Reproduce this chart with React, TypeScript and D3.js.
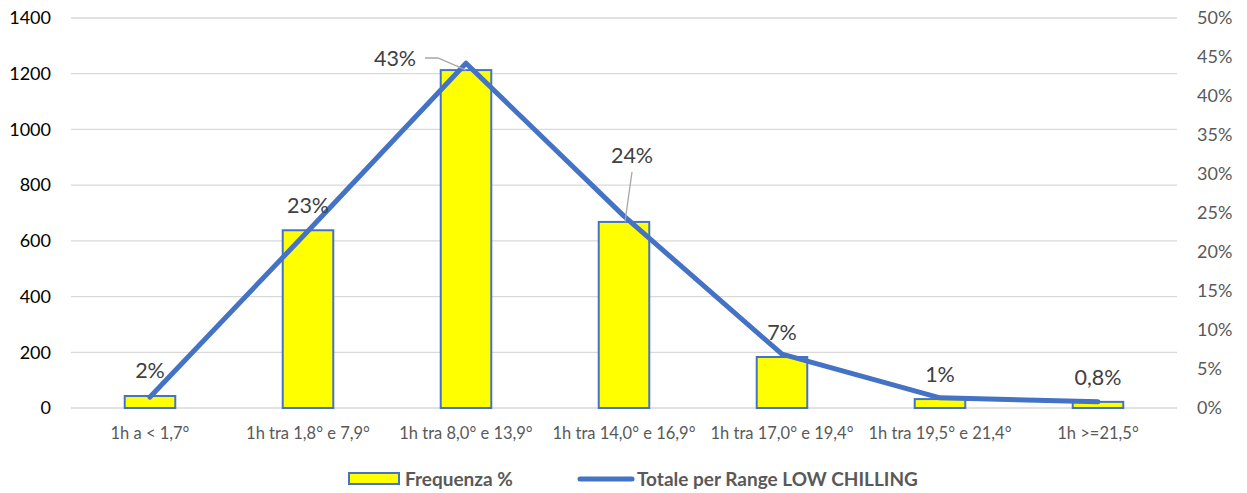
import * as React from "react";
import * as d3 from "d3";

// chart data
const categories = [
  "1h a < 1,7°",
  "1h tra 1,8° e 7,9°",
  "1h tra 8,0° e 13,9°",
  "1h tra 14,0° e 16,9°",
  "1h tra 17,0° e 19,4°",
  "1h tra 19,5° e 21,4°",
  "1h >=21,5°",
];
const counts = [43, 638, 1213, 668, 183, 32, 22];
const percents = [1.4, 22.7, 44.2, 24.6, 6.9, 1.3, 0.8];
const pctLabels = ["2%", "23%", "43%", "24%", "7%", "1%", "0,8%"];
const leftTicks = [0, 200, 400, 600, 800, 1000, 1200, 1400];
const rightTicks = [0, 5, 10, 15, 20, 25, 30, 35, 40, 45, 50];

const W = 1247;
const H = 493;
const FONT = "Lato, 'Open Sans', sans-serif";
const BLUE = "#4472c4";

export default function App() {
  const ref = React.useRef<SVGSVGElement>(null);

  React.useEffect(() => {
    const svg = d3.select(ref.current);
    svg.selectAll("*").remove();

    const x = d3.scaleBand().domain(categories).range([71, 1177]);
    const yL = d3.scaleLinear().domain([0, 1400]).range([408, 18]);
    const yR = d3.scaleLinear().domain([0, 50]).range([408, 18]);
    const cx = (i: number) => x(categories[i])! + x.bandwidth() / 2;
    const barW = x.bandwidth() * 0.32;

    // gridlines
    svg.append("g")
      .selectAll("line")
      .data(leftTicks)
      .join("line")
      .attr("x1", 71).attr("x2", 1177)
      .attr("y1", d => yL(d)).attr("y2", d => yL(d))
      .attr("stroke", "#d9d9d9").attr("stroke-width", 1.3);

    // left axis labels
    svg.append("g")
      .selectAll("text")
      .data(leftTicks)
      .join("text")
      .attr("x", 51).attr("y", d => yL(d))
      .attr("dy", "0.35em")
      .attr("text-anchor", "end")
      .attr("font-size", 18).attr("fill", "#000")
      .attr("font-family", FONT)
      .text(d => d);

    // right axis labels
    svg.append("g")
      .selectAll("text")
      .data(rightTicks)
      .join("text")
      .attr("x", 1197).attr("y", d => yR(d))
      .attr("dy", "0.35em")
      .attr("font-size", 18).attr("fill", "#595959")
      .attr("font-family", FONT)
      .text(d => d + "%");

    // category labels
    svg.append("g")
      .selectAll("text")
      .data(categories)
      .join("text")
      .attr("x", (d, i) => cx(i)).attr("y", 433)
      .attr("dy", "0.35em")
      .attr("text-anchor", "middle")
      .attr("font-size", 16.5).attr("fill", "#595959")
      .attr("font-family", FONT)
      .text(d => d);

    // bars
    svg.append("g")
      .selectAll("rect")
      .data(counts)
      .join("rect")
      .attr("x", (d, i) => cx(i) - barW / 2)
      .attr("width", barW)
      .attr("y", d => yL(d))
      .attr("height", d => yL(0) - yL(d))
      .attr("fill", "#ffff00")
      .attr("stroke", BLUE).attr("stroke-width", 2);

    // line
    const line = d3.line<number>()
      .x((d, i) => cx(i))
      .y(d => yR(d));
    svg.append("path")
      .datum(percents)
      .attr("d", line)
      .attr("fill", "none")
      .attr("stroke", BLUE).attr("stroke-width", 5)
      .attr("stroke-linejoin", "round")
      .attr("stroke-linecap", "round");

    // leader lines
    svg.append("path")
      .attr("d", `M425,58 L438,58 L${cx(2)},${yL(counts[2])}`)
      .attr("fill", "none").attr("stroke", "#a6a6a6").attr("stroke-width", 1.3);
    svg.append("path")
      .attr("d", `M632,172 L${cx(3) + 1},${yL(counts[3])}`)
      .attr("fill", "none").attr("stroke", "#a6a6a6").attr("stroke-width", 1.3);

    // data labels
    const labelPos: [number, number][] = [
      [cx(0), 370], [cx(1), 205], [395, 58], [632, 155],
      [cx(4), 332], [cx(5), 374], [cx(6), 377],
    ];
    svg.append("g")
      .selectAll("text")
      .data(pctLabels)
      .join("text")
      .attr("x", (d, i) => labelPos[i][0])
      .attr("y", (d, i) => labelPos[i][1])
      .attr("dy", "0.35em")
      .attr("text-anchor", "middle")
      .attr("font-size", 21.5).attr("fill", "#404040")
      .attr("font-family", FONT)
      .text(d => d);

    // legend
    const lg = svg.append("g").attr("font-family", FONT).attr("font-size", 19)
      .attr("font-weight", "bold").attr("fill", "#595959");
    lg.append("rect")
      .attr("x", 349).attr("y", 473).attr("width", 50).attr("height", 11)
      .attr("fill", "#ffff00").attr("stroke", BLUE).attr("stroke-width", 2);
    lg.append("text").attr("x", 405).attr("y", 479).attr("dy", "0.35em").text("Frequenza %");
    lg.append("line")
      .attr("x1", 580).attr("x2", 632).attr("y1", 479).attr("y2", 479)
      .attr("stroke", BLUE).attr("stroke-width", 5).attr("stroke-linecap", "round");
    lg.append("text").attr("x", 637).attr("y", 479).attr("dy", "0.35em")
      .text("Totale per Range LOW CHILLING");
  }, []);

  return (
    <svg ref={ref} width={W} height={H}
      style={{ position: "absolute", left: 0, top: 0, background: "#fff" }} />
  );
}
